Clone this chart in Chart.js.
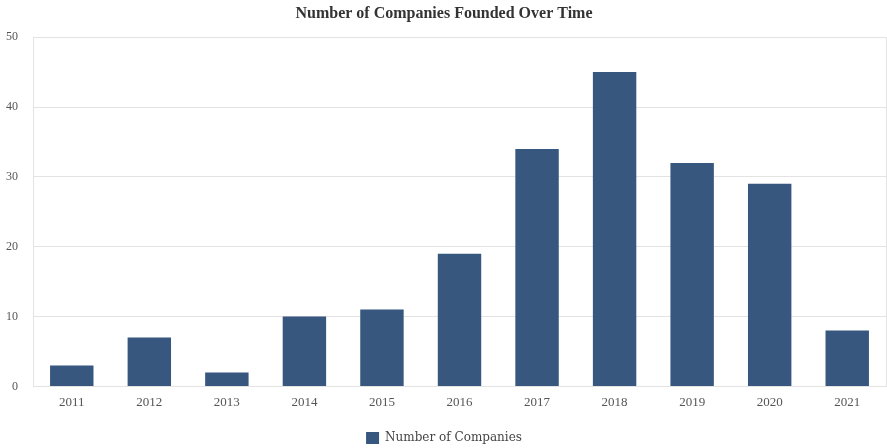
<!DOCTYPE html>
<html>
<head>
    <title>Companies Founded</title>
    <script src="https://cdn.jsdelivr.net/npm/chart.js"></script>
    <style>
        body {
            margin: 0;
            padding: 0;
            background-color: #ffffff;
        }

        #chart-box {
            width: 887px;
            height: 448px;
        }
    </style>
</head>
<body>
    <div id="chart-box"><canvas id="foundedChart"></canvas></div>
    <script>
        const years = ['2011', '2012', '2013', '2014', '2015', '2016', '2017', '2018', '2019', '2020', '2021'];
        const companyCounts = [3, 7, 2, 10, 11, 19, 34, 45, 32, 29, 8];
        const seriesName = 'Number of Companies';
        const chartTitle = 'Number of Companies Founded Over Time';

        const serif = "'Liberation Serif', 'Times New Roman', serif";

        // closes the plot frame on the right side
        const rightEdge = {
            id: 'rightEdge',
            afterDraw(chart) {
                const { ctx, chartArea } = chart;
                ctx.save();
                ctx.strokeStyle = '#e3e3e3';
                ctx.lineWidth = 1;
                ctx.beginPath();
                ctx.moveTo(chartArea.right + 0.5, chartArea.top);
                ctx.lineTo(chartArea.right + 0.5, chartArea.bottom);
                ctx.stroke();
                ctx.restore();
            }
        };

        const ctx = document.getElementById('foundedChart').getContext('2d');
        new Chart(ctx, {
            type: 'bar',
            data: {
                labels: years,
                datasets: [{
                    label: seriesName,
                    data: companyCounts,
                    backgroundColor: '#37577f',
                    borderWidth: 0,
                    barPercentage: 0.56,
                    categoryPercentage: 1.0
                }]
            },
            options: {
                responsive: true,
                maintainAspectRatio: false,
                animation: false,
                layout: {
                    // legend sits close to the bottom edge
                    padding: { left: 2, right: 1, top: 0, bottom: -6 }
                },
                scales: {
                    x: {
                        grid: { display: false },
                        border: { color: '#e3e3e3' },
                        ticks: {
                            color: '#555',
                            font: { family: serif, size: 13 },
                            padding: 0
                        },
                        // leave a gap under the year labels before the legend
                        afterFit: (scale) => { scale.height += 18; }
                    },
                    y: {
                        min: 0,
                        max: 50,
                        ticks: {
                            stepSize: 10,
                            color: '#555',
                            font: { family: serif, size: 12 },
                            padding: 15
                        },
                        grid: { color: '#e3e3e3', drawTicks: false },
                        border: { color: '#e3e3e3' },
                        // narrow the left margin next to the value labels
                        afterFit: (scale) => { scale.width -= 11; }
                    }
                },
                plugins: {
                    title: {
                        display: true,
                        text: chartTitle,
                        color: '#333',
                        font: { family: serif, size: 16, weight: 'bold' },
                        padding: { top: 4, bottom: 14 }
                    },
                    legend: {
                        position: 'bottom',
                        labels: {
                            color: '#444',
                            font: { family: "'DejaVu Serif', serif", size: 12 },
                            boxWidth: 13,
                            boxHeight: 12,
                            padding: 4
                        }
                    },
                    tooltip: { enabled: false }
                }
            },
            plugins: [rightEdge]
        });
    </script>
</body>
</html>
